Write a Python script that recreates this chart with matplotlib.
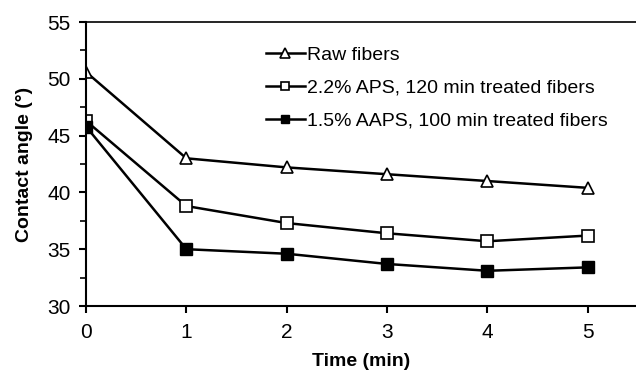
import matplotlib.pyplot as plt
from matplotlib.ticker import MultipleLocator

plt.rcParams['font.family'] = ['Liberation Sans', 'DejaVu Sans']

time_min = [0, 1, 2, 3, 4, 5]
raw = [50.6, 43.0, 42.2, 41.6, 41.0, 40.4]
aps = [46.3, 38.8, 37.3, 36.4, 35.7, 36.2]
aaps = [45.8, 35.0, 34.6, 33.7, 33.1, 33.4]
labels = ['Raw fibers', '2.2% APS, 120 min treated fibers', '1.5% AAPS, 100 min treated fibers']

fig = plt.figure(figsize=(6.36, 3.75), dpi=100)
ax = fig.add_axes([86 / 636, 1 - 306 / 375, 1 - 86 / 636, 284 / 375])

ax.plot(time_min, raw, '-^', color='black', lw=1.8, ms=9, mfc='white', mew=1.2, label=labels[0])
ax.plot(time_min, aps, '-s', color='black', lw=1.8, ms=8, mfc='white', mew=1.2, label=labels[1])
ax.plot(time_min, aaps, '-s', color='black', lw=1.8, ms=8, mfc='black', label=labels[2])

ax.set_xlim(0, 5.48)
ax.set_ylim(30, 55)
ax.xaxis.set_major_locator(MultipleLocator(1))
ax.yaxis.set_major_locator(MultipleLocator(5))
ax.yaxis.set_minor_locator(MultipleLocator(2.5))
ax.tick_params(axis='both', which='major', direction='out', length=5, width=1.5, labelsize=15, colors='black')
ax.tick_params(axis='y', which='minor', direction='out', length=4, width=1.2)
ax.tick_params(axis='x', pad=7)
ax.tick_params(axis='y', pad=6)
ax.spines['right'].set_visible(False)
for s in ['left', 'bottom']:
    ax.spines[s].set_linewidth(1.5)
ax.spines['top'].set_linewidth(1.2)

ax.set_xlabel('Time (min)', fontsize=14, fontweight='bold', labelpad=8)
ax.set_ylabel('Contact angle (°)', fontsize=14, fontweight='bold', labelpad=10)

ax.legend(loc='upper left', bbox_to_anchor=(0.295, 0.975), frameon=False, fontsize=14,
          handlelength=2.0, handletextpad=0.1, labelspacing=0.78, markerscale=0.8)

fig.savefig('out.png', dpi=100)
